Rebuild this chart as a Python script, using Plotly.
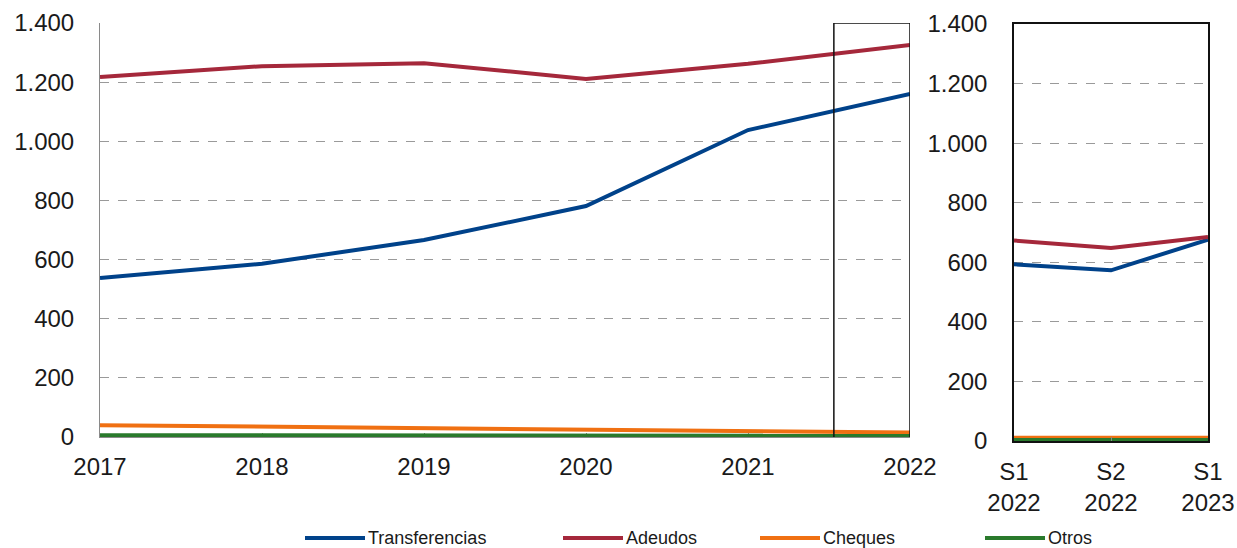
import plotly.graph_objects as go

# annual data (left panel)
years = [2017, 2018, 2019, 2020, 2021, 2022]
transferencias = [538, 586, 666, 781, 1038, 1160]
adeudos = [1217, 1254, 1264, 1211, 1262, 1326]
cheques = [40, 35, 30, 25, 20, 15]
otros = [6, 6, 5, 5, 4, 4]

# half-year data (right panel)
semesters = ['S1<br>2022', 'S2<br>2022', 'S1<br>2023']
transf_s = [593, 573, 676]
adeudos_s = [673, 648, 685]
cheques_s = [11, 11, 11]
otros_s = [3, 3, 3]

y_ticks = [0, 200, 400, 600, 800, 1000, 1200, 1400]
y_ticktext = ['0', '200', '400', '600', '800', '1.000', '1.200', '1.400']

names = ['Transferencias', 'Adeudos', 'Cheques', 'Otros']
colors = ['#00428a', '#a5283b', '#f07012', '#2a7a2c']

FONT = 'Liberation Sans, Arial, sans-serif'

# page body margin is removed in the html (post_script), so the figure
# fills the whole window and pixel positions map directly
W, H = 1237, 548


def px_x(x):
    return x / W


def px_y(y):
    return 1 - y / H


fig = go.Figure()

left_series = [transferencias, adeudos, cheques, otros]
right_series = [transf_s, adeudos_s, cheques_s, otros_s]

for i in range(len(names)):
    fig.add_trace(go.Scatter(
        x=years, y=left_series[i], mode='lines', name=names[i],
        line=dict(color=colors[i], width=4), xaxis='x', yaxis='y',
        showlegend=False
    ))
    fig.add_trace(go.Scatter(
        x=semesters, y=right_series[i], mode='lines', name=names[i],
        line=dict(color=colors[i], width=4), xaxis='x2', yaxis='y2',
        showlegend=False
    ))

fig.update_layout(
    width=W, height=H,
    margin=dict(l=0, r=0, t=0, b=0, autoexpand=False),
    paper_bgcolor='white', plot_bgcolor='white',
    font=dict(family=FONT, size=24, color='#1a1a1a'),
    showlegend=False,
    xaxis=dict(
        domain=[px_x(100), px_x(910)], range=[2017, 2022],
        tickvals=years, ticktext=[str(y) for y in years],
        showgrid=False, zeroline=False,
        showline=True, linecolor='#8a8a8a', linewidth=1,
        ticks='inside', ticklen=4, tickcolor='#8a8a8a',
        ticklabelstandoff=8, layer='below traces', anchor='y',
        automargin=False,
    ),
    yaxis=dict(
        domain=[px_y(437), px_y(23)], range=[0, 1400],
        tickvals=y_ticks, ticktext=y_ticktext,
        showgrid=True, gridcolor='#9a9a9a', griddash='dash', gridwidth=1,
        zeroline=False, showline=True, linecolor='#8a8a8a', linewidth=1,
        ticks='', ticklabelstandoff=20, layer='below traces', anchor='x',
        automargin=False,
    ),
    xaxis2=dict(
        domain=[px_x(1014), px_x(1208)], type='category', range=[0, 2],
        showgrid=False, zeroline=False,
        showline=True, mirror=True, linecolor='#111111', linewidth=1.5,
        ticks='inside', ticklen=4, tickcolor='#8a8a8a',
        ticklabelstandoff=8, anchor='y2', automargin=False,
    ),
    yaxis2=dict(
        domain=[px_y(441), px_y(24)], range=[0, 1400],
        tickvals=y_ticks, ticktext=y_ticktext,
        showgrid=True, gridcolor='#9a9a9a', griddash='dash', gridwidth=1,
        zeroline=False, showline=True, mirror=True,
        linecolor='#111111', linewidth=1.5,
        ticks='', ticklabelstandoff=20, anchor='x2', automargin=False,
    ),
)

# highlight box around 2022 in the annual panel
fig.add_shape(type='rect', xref='x', yref='y',
              x0=2021.53, x1=2022, y0=-10, y1=1400,
              line=dict(color='#111111', width=1.5), fillcolor='rgba(0,0,0,0)')

# legend drawn along the bottom
leg_x = [305, 563, 760, 985]
leg_len = 60
leg_y = px_y(538)
for i, name in enumerate(names):
    x0 = px_x(leg_x[i])
    x1 = px_x(leg_x[i] + leg_len)
    fig.add_shape(type='line', xref='paper', yref='paper',
                  x0=x0, x1=x1, y0=leg_y, y1=leg_y,
                  line=dict(color=colors[i], width=4))
    fig.add_annotation(text=name, xref='paper', yref='paper',
                       x=x1 + 1 / W, y=leg_y, xanchor='left', yanchor='middle',
                       showarrow=False,
                       font=dict(family=FONT, size=18, color='#1a1a1a'))

fig.write_html('out.html',
               config={'displayModeBar': False},
               post_script="document.body.style.margin='0';"
                           "document.body.style.overflow='hidden';")
